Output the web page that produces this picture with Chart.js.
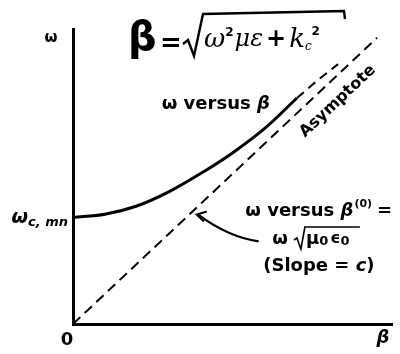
<!DOCTYPE html>
<html>
<head>
<meta charset="utf-8">
<script src="https://cdn.jsdelivr.net/npm/chart.js@4.4.1/dist/chart.umd.min.js"></script>
<style>
  html, body { margin: 0; padding: 0; background: #fff; }
  #wrap { width: 400px; height: 354px; }
</style>
</head>
<body>
<div id="wrap"><canvas id="myChart"></canvas></div>
<script>
// dispersion curve omega(beta) for the guide mode, solid part
const betaCurve = [0, 1, 2, 3, 4, 5, 6, 7.02];
const omegaCurve = [3.61, 3.72, 4.00, 4.48, 5.10, 5.80, 6.62, 7.66];
// dashed continuation of the curve toward the asymptote
const betaTail = [7.02, 7.68, 8.31];
const omegaTail = [7.66, 8.27, 8.81];
// free-space line omega = c * beta (asymptote)
const betaAsym = [0, 9.53];
const omegaAsym = [0, 9.70];
// axis range
const betaMax = 10;
const omegaMax = 10;

function toPoints(xs, ys) {
  return xs.map(function (x, i) { return { x: x, y: ys[i] }; });
}

const FONT = "DejaVu Sans";

// draw a run of text pieces left to right, returns end x
function drawRun(ctx, x, y, pieces) {
  pieces.forEach(function (p) {
    ctx.font = p.font;
    ctx.fillText(p.t, x, y + (p.dy || 0));
    x += ctx.measureText(p.t).width + (p.gap || 0);
  });
  return x;
}

function runWidth(ctx, pieces) {
  var w = 0;
  pieces.forEach(function (p) {
    ctx.font = p.font;
    w += ctx.measureText(p.t).width + (p.gap || 0);
  });
  return w;
}

const labels = {
  id: "labels",
  afterDraw: function (chart) {
    const ctx = chart.ctx;
    const sx = chart.scales.x;
    const sy = chart.scales.y;
    const area = chart.chartArea;
    ctx.save();
    ctx.fillStyle = "#000";
    ctx.strokeStyle = "#000";
    ctx.textBaseline = "middle";

    // axis names and origin
    ctx.textAlign = "center";
    ctx.font = "bold 15px " + FONT;
    ctx.fillText("ω", area.left - 22, area.top + 9);
    ctx.font = "bold 18px " + FONT;
    ctx.fillText("0", area.left - 6, area.bottom + 16);
    ctx.font = "italic bold 18px " + FONT;
    ctx.fillText("β", area.right - 9, area.bottom + 14);

    // cutoff frequency label
    ctx.textAlign = "left";
    var yc = sy.getPixelForValue(omegaCurve[0]);
    var cut = [
      { t: "ω", font: "italic bold 19px " + FONT },
      { t: "c, mn", font: "italic bold 13px " + FONT, dy: 4 }
    ];
    drawRun(ctx, area.left - 5 - runWidth(ctx, cut), yc + 1, cut);

    // curve name
    drawRun(ctx, sx.getPixelForValue(2.78), sy.getPixelForValue(7.45), [
      { t: "ω versus ", font: "bold 18px " + FONT },
      { t: "β", font: "italic bold 18px " + FONT }
    ]);

    // asymptote name, along the dashed line
    var ax0 = sx.getPixelForValue(betaAsym[0]), ay0 = sy.getPixelForValue(omegaAsym[0]);
    var ax1 = sx.getPixelForValue(betaAsym[1]), ay1 = sy.getPixelForValue(omegaAsym[1]);
    var ang = Math.atan2(ay1 - ay0, ax1 - ax0);
    ctx.save();
    ctx.translate(sx.getPixelForValue(8.3), sy.getPixelForValue(7.55));
    ctx.rotate(ang);
    ctx.textAlign = "center";
    ctx.font = "bold 16px " + FONT;
    ctx.fillText("Asymptote", 0, 0);
    ctx.restore();

    // free-space label block
    ctx.textAlign = "left";
    var bx = sx.getPixelForValue(5.4);
    var by = sy.getPixelForValue(3.83);
    drawRun(ctx, bx, by, [
      { t: "ω versus ", font: "bold 18px " + FONT },
      { t: "β", font: "italic bold 18px " + FONT, gap: 1 },
      { t: "(0)", font: "bold 11px " + FONT, dy: -7, gap: 5 },
      { t: "=", font: "bold 18px " + FONT }
    ]);
    var lx = bx + 27, ly = by + 28;
    var e = drawRun(ctx, lx, ly, [{ t: "ω", font: "bold 18px " + FONT, gap: 6 }]);
    // radical sign
    ctx.lineWidth = 1.6;
    ctx.beginPath();
    ctx.moveTo(e, ly + 1);
    ctx.lineTo(e + 3, ly - 1);
    ctx.lineTo(e + 7, ly + 10);
    ctx.lineTo(e + 11, ly - 12);
    ctx.lineTo(e + 66, ly - 12);
    ctx.stroke();
    drawRun(ctx, e + 12, ly, [
      { t: "μ", font: "bold 18px " + FONT },
      { t: "0", font: "bold 13px " + FONT, dy: 3, gap: 2 },
      { t: "ϵ", font: "bold 16px " + FONT },
      { t: "0", font: "bold 13px " + FONT, dy: 3 }
    ]);
    drawRun(ctx, bx + 18, ly + 27, [
      { t: "(Slope = ", font: "bold 18px " + FONT },
      { t: "c", font: "italic bold 18px " + FONT },
      { t: ")", font: "bold 18px " + FONT }
    ]);

    // arrow from the label to the asymptote
    var tipX = sx.getPixelForValue(3.82), tipY = sy.getPixelForValue(3.78);
    var tailX = sx.getPixelForValue(5.82), tailY = sy.getPixelForValue(2.8);
    ctx.lineWidth = 2.2;
    ctx.beginPath();
    ctx.moveTo(tailX, tailY);
    ctx.quadraticCurveTo(tailX - 30, tailY - 4, tipX + 3, tipY + 2);
    ctx.stroke();
    ctx.beginPath();
    ctx.moveTo(tipX + 12, tipY - 1);
    ctx.lineTo(tipX + 2, tipY + 2);
    ctx.lineTo(tipX + 9, tipY + 9);
    ctx.stroke();

    // handwritten relation at the top
    ctx.textAlign = "left";
    ctx.font = "bold 40px DejaVu Sans";
    ctx.fillText("β", 128, 40);
    ctx.font = "bold 26px DejaVu Sans";
    ctx.fillText("=", 160, 44);
    ctx.lineWidth = 2.4;
    ctx.beginPath();
    ctx.moveTo(183, 44);
    ctx.lineTo(188, 40);
    ctx.lineTo(194, 56);
    ctx.lineTo(203, 14);
    ctx.lineTo(344, 11);
    ctx.lineTo(345, 19);
    ctx.stroke();
    drawRun(ctx, 204, 40, [
      { t: "ω", font: "italic 26px DejaVu Serif" },
      { t: "2", font: "bold 12px DejaVu Sans", dy: -7, gap: 1 },
      { t: "με", font: "italic 24px DejaVu Serif", gap: 3 },
      { t: "+", font: "bold 24px DejaVu Sans", gap: 3 },
      { t: "k", font: "italic 26px DejaVu Serif" },
      { t: "c", font: "italic 12px DejaVu Serif", dy: 7 },
      { t: "2", font: "bold 12px DejaVu Sans", dy: -8 }
    ]);
    ctx.restore();
  }
};

new Chart(document.getElementById("myChart"), {
  type: "scatter",
  data: {
    datasets: [
      {
        data: toPoints(betaCurve, omegaCurve),
        showLine: true,
        borderColor: "#000",
        borderWidth: 3,
        pointRadius: 0,
        cubicInterpolationMode: "monotone"
      },
      {
        data: toPoints(betaTail, omegaTail),
        showLine: true,
        borderColor: "#000",
        borderWidth: 2,
        borderDash: [9, 6],
        pointRadius: 0,
        cubicInterpolationMode: "monotone"
      },
      {
        data: toPoints(betaAsym, omegaAsym),
        showLine: true,
        borderColor: "#000",
        borderWidth: 2,
        borderDash: [10, 6],
        pointRadius: 0
      }
    ]
  },
  options: {
    responsive: true,
    maintainAspectRatio: false,
    animation: false,
    layout: { padding: { left: 73, right: 8, top: 29, bottom: 30 } },
    plugins: {
      legend: { display: false },
      tooltip: { enabled: false }
    },
    scales: {
      x: {
        type: "linear",
        min: 0,
        max: betaMax,
        grid: { display: false, drawTicks: false },
        ticks: { display: false },
        border: { display: true, color: "#000", width: 3 }
      },
      y: {
        type: "linear",
        min: 0,
        max: omegaMax,
        grid: { display: false, drawTicks: false },
        ticks: { display: false },
        border: { display: true, color: "#000", width: 3 }
      }
    }
  },
  plugins: [labels]
});
</script>
</body>
</html>
